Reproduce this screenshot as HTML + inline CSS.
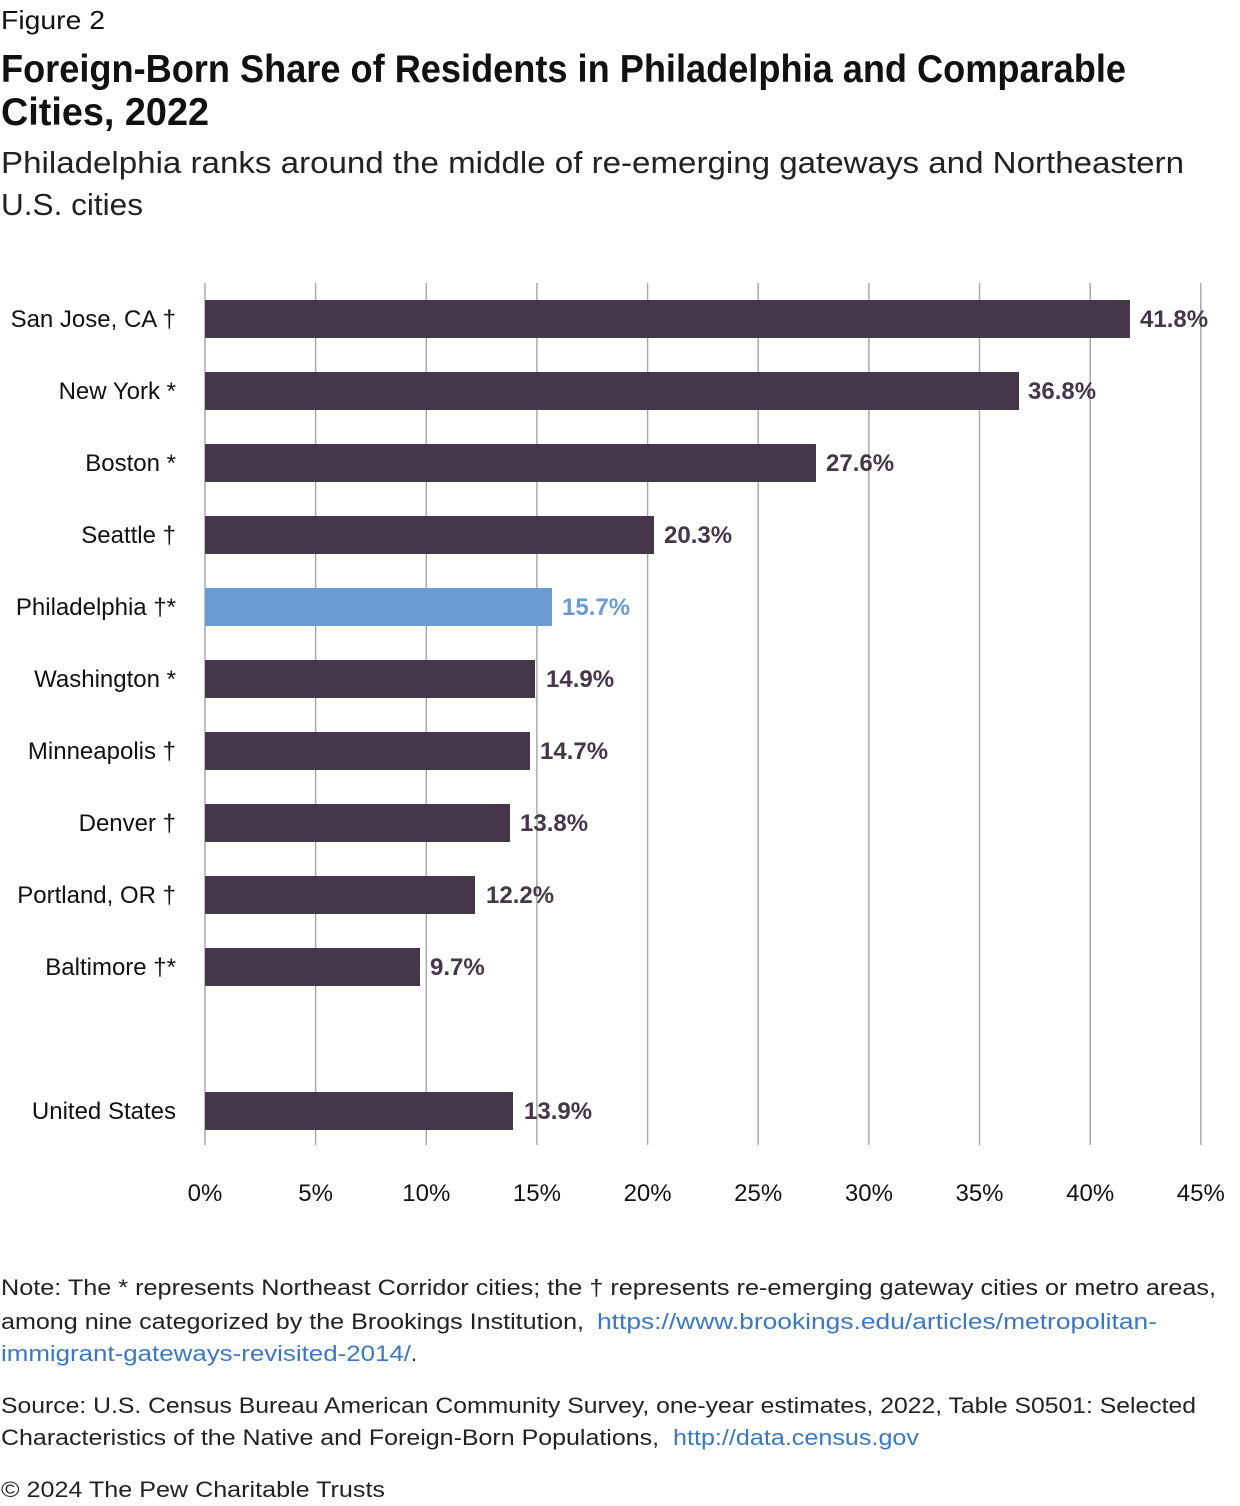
<!DOCTYPE html>
<html><head><meta charset="utf-8"><style>
html,body{margin:0;padding:0;background:#fff;}
svg{display:block;font-family:"Liberation Sans",sans-serif;}
</style></head><body>
<svg width="1240" height="1506" viewBox="0 0 1240 1506" xmlns="http://www.w3.org/2000/svg">
<text x="1" y="29" font-size="26" fill="#111" textLength="104" lengthAdjust="spacingAndGlyphs">Figure 2</text>
<text x="1" y="82" font-size="39" font-weight="bold" fill="#111" textLength="1125" lengthAdjust="spacingAndGlyphs">Foreign-Born Share of Residents in Philadelphia and Comparable</text>
<text x="1" y="125" font-size="39" font-weight="bold" fill="#111" textLength="208" lengthAdjust="spacingAndGlyphs">Cities, 2022</text>
<text x="1" y="173" font-size="31" fill="#222" textLength="1183" lengthAdjust="spacingAndGlyphs">Philadelphia ranks around the middle of re-emerging gateways and Northeastern</text>
<text x="1" y="215" font-size="31" fill="#222" textLength="142" lengthAdjust="spacingAndGlyphs">U.S. cities</text>
<g stroke="#aaa" stroke-width="1.5">
<line x1="205" y1="283" x2="205" y2="1145"/><line x1="315.6" y1="283" x2="315.6" y2="1145"/><line x1="426.3" y1="283" x2="426.3" y2="1145"/><line x1="536.9" y1="283" x2="536.9" y2="1145"/><line x1="647.6" y1="283" x2="647.6" y2="1145"/><line x1="758.2" y1="283" x2="758.2" y2="1145"/><line x1="868.9" y1="283" x2="868.9" y2="1145"/><line x1="979.5" y1="283" x2="979.5" y2="1145"/><line x1="1090.2" y1="283" x2="1090.2" y2="1145"/><line x1="1200.8" y1="283" x2="1200.8" y2="1145"/>
</g>
<g fill="#46364a">
<rect x="205" y="300" width="925" height="38"/>
<rect x="205" y="372" width="814" height="38"/>
<rect x="205" y="444" width="611" height="38"/>
<rect x="205" y="516" width="449" height="38"/>
<rect x="205" y="588" width="347" height="38" fill="#6a9bd1"/>
<rect x="205" y="660" width="330" height="38"/>
<rect x="205" y="732" width="325" height="38"/>
<rect x="205" y="804" width="305" height="38"/>
<rect x="205" y="876" width="270" height="38"/>
<rect x="205" y="948" width="215" height="38"/>
<rect x="205" y="1092" width="308" height="38"/>
</g>
<g font-size="24" font-weight="bold" fill="#46364a">
<text x="1140" y="327">41.8%</text>
<text x="1028" y="399">36.8%</text>
<text x="826" y="471">27.6%</text>
<text x="664" y="543">20.3%</text>
<text x="562" y="615" fill="#6a9bd1">15.7%</text>
<text x="546" y="687">14.9%</text>
<text x="540" y="759">14.7%</text>
<text x="520" y="831">13.8%</text>
<text x="486" y="903">12.2%</text>
<text x="430" y="975">9.7%</text>
<text x="524" y="1119">13.9%</text>
</g>
<g font-size="24" fill="#111" text-anchor="end">
<text x="176" y="327">San Jose, CA †</text>
<text x="176" y="399">New York *</text>
<text x="176" y="471">Boston *</text>
<text x="176" y="543">Seattle †</text>
<text x="176" y="615">Philadelphia †*</text>
<text x="176" y="687">Washington *</text>
<text x="176" y="759">Minneapolis †</text>
<text x="176" y="831">Denver †</text>
<text x="176" y="903">Portland, OR †</text>
<text x="176" y="975">Baltimore †*</text>
<text x="176" y="1119">United States</text>
</g>
<g font-size="24" fill="#111" text-anchor="middle">
<text x="205" y="1201">0%</text><text x="315.6" y="1201">5%</text><text x="426.3" y="1201">10%</text><text x="536.9" y="1201">15%</text><text x="647.6" y="1201">20%</text><text x="758.2" y="1201">25%</text><text x="868.9" y="1201">30%</text><text x="979.5" y="1201">35%</text><text x="1090.2" y="1201">40%</text><text x="1200.8" y="1201">45%</text>
</g>
<g font-size="22" fill="#222">
<text x="1" y="1295" textLength="1215" lengthAdjust="spacingAndGlyphs">Note: The * represents Northeast Corridor cities; the † represents re-emerging gateway cities or metro areas,</text>
<text x="1" y="1329"><tspan textLength="590" lengthAdjust="spacingAndGlyphs">among nine categorized by the Brookings Institution, </tspan><tspan x="597" fill="#3a78c4" textLength="560" lengthAdjust="spacingAndGlyphs">https://www.brookings.edu/articles/metropolitan-</tspan></text>
<text x="1" y="1361"><tspan fill="#3a78c4" textLength="410" lengthAdjust="spacingAndGlyphs">immigrant-gateways-revisited-2014/</tspan><tspan>.</tspan></text>
<text x="1" y="1413" textLength="1195" lengthAdjust="spacingAndGlyphs">Source: U.S. Census Bureau American Community Survey, one-year estimates, 2022, Table S0501: Selected</text>
<text x="1" y="1445"><tspan textLength="665" lengthAdjust="spacingAndGlyphs">Characteristics of the Native and Foreign-Born Populations, </tspan><tspan x="673" fill="#3a78c4" textLength="246" lengthAdjust="spacingAndGlyphs">http://data.census.gov</tspan></text>
<text x="1" y="1497" textLength="384" lengthAdjust="spacingAndGlyphs">© 2024 The Pew Charitable Trusts</text>
</g>
</svg>
</body></html>
